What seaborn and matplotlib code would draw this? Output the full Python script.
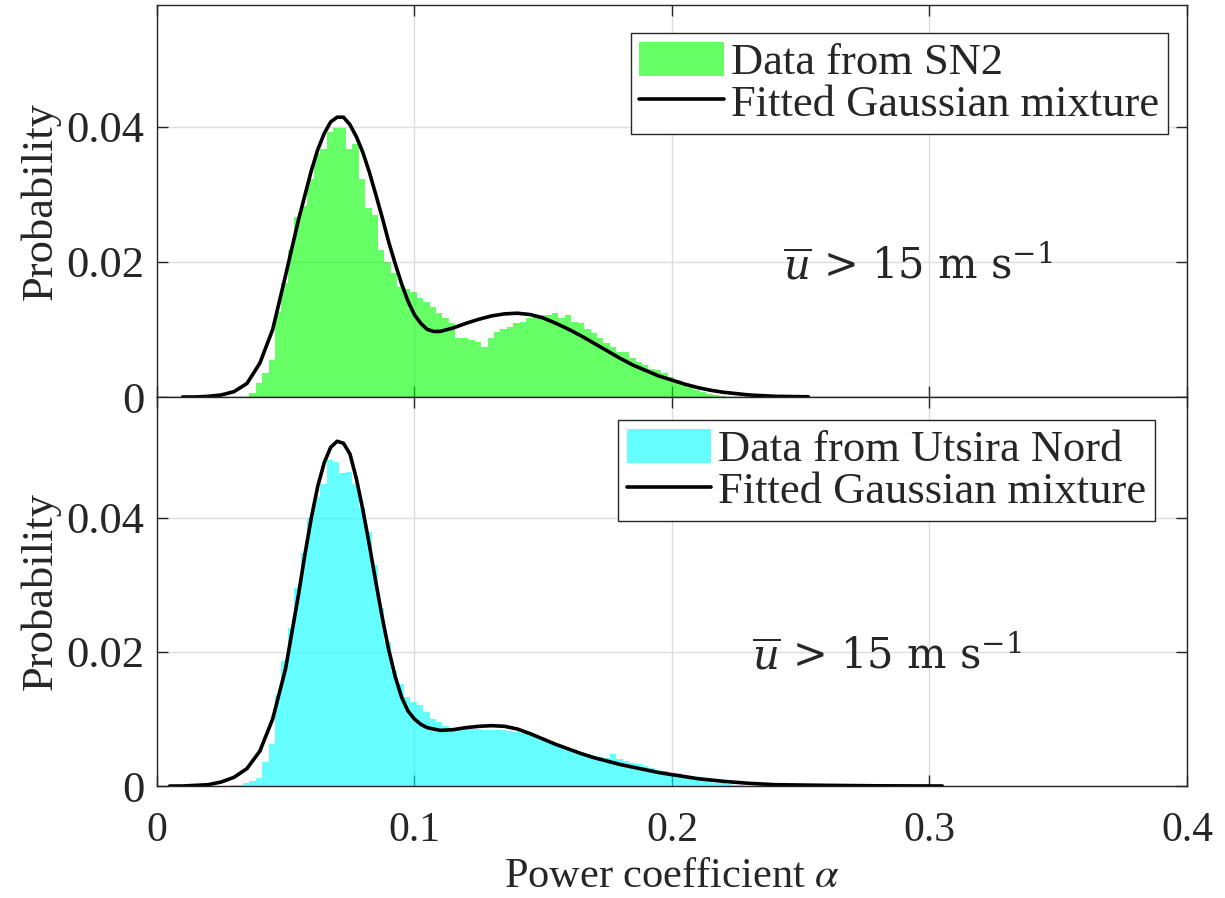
import numpy as np
import pandas as pd
import matplotlib
matplotlib.use("Agg")
import matplotlib.pyplot as plt
import seaborn as sns
from matplotlib.patches import Patch
from matplotlib.lines import Line2D

# ---------------- data ----------------
bin_width = 0.0025
sn2_first_edge = 0.0359
sn2_prob = [0.0006, 0.0021, 0.0035, 0.0055, 0.0126, 0.0169, 0.0217, 0.0266, 0.0282, 0.0322,
            0.0360, 0.0367, 0.0392, 0.0398, 0.0398, 0.0367, 0.0375, 0.0323, 0.0280, 0.0269,
            0.0217, 0.0200, 0.0183, 0.0163, 0.0160, 0.0155, 0.0146, 0.0141, 0.0133, 0.0124,
            0.0117, 0.0109, 0.0087, 0.0087, 0.0085, 0.0082, 0.0074, 0.0087, 0.0096, 0.0100,
            0.0103, 0.0109, 0.0111, 0.0117, 0.0119, 0.0121, 0.0122, 0.0124, 0.0117, 0.0122,
            0.0111, 0.0109, 0.0100, 0.0094, 0.0087, 0.0080, 0.0074, 0.0067, 0.0067, 0.0057,
            0.0052, 0.0047, 0.0042, 0.0040, 0.0035, 0.0030, 0.0025, 0.0020, 0.0015, 0.0010,
            0.0007, 0.0005, 0.0003, 0.0002]

sn2_fit_x = [0.010, 0.015, 0.020, 0.025, 0.030, 0.035, 0.040, 0.045, 0.050, 0.055,
             0.060, 0.0625, 0.065, 0.0675, 0.070, 0.0725, 0.075, 0.0775, 0.080, 0.0825,
             0.085, 0.0875, 0.090, 0.0925, 0.095, 0.0975, 0.100, 0.1025, 0.105, 0.1075,
             0.110, 0.115, 0.120, 0.125, 0.130, 0.135, 0.140, 0.145, 0.150, 0.155,
             0.160, 0.165, 0.170, 0.175, 0.180, 0.185, 0.190, 0.195, 0.200, 0.205,
             0.210, 0.215, 0.220, 0.225, 0.230, 0.240, 0.253]
sn2_fit_y = [0.0, 0.0, 0.0001, 0.0003, 0.0008, 0.0020, 0.0050, 0.0100, 0.0180, 0.0262,
             0.0335, 0.0366, 0.0390, 0.0407, 0.0414, 0.0414, 0.0403, 0.0385, 0.0362, 0.0333,
             0.0300, 0.0266, 0.0230, 0.0198, 0.0168, 0.0142, 0.0122, 0.0109, 0.0100, 0.0097,
             0.0097, 0.0102, 0.0109, 0.0115, 0.0120, 0.0123, 0.0124, 0.0122, 0.0117, 0.0109,
             0.0100, 0.0090, 0.0079, 0.0068, 0.0057, 0.0047, 0.0039, 0.0031, 0.0025, 0.0019,
             0.0014, 0.0010, 0.0007, 0.0005, 0.0003, 0.0001, 0.00003]

utsira_first_edge = 0.0284
utsira_prob = [0.0001, 0.0002, 0.0004, 0.0007, 0.0012, 0.0036, 0.0063, 0.0135, 0.0187, 0.0236,
               0.0295, 0.0347, 0.0399, 0.0431, 0.0451, 0.0486, 0.0483, 0.0466, 0.0468, 0.0450,
               0.0414, 0.0379, 0.0330, 0.0265, 0.0215, 0.0172, 0.0152, 0.0132, 0.0125, 0.0121,
               0.0110, 0.0100, 0.0096, 0.0090, 0.0087, 0.0086, 0.0085, 0.0085, 0.0085, 0.0084,
               0.0083, 0.0083, 0.0083, 0.0082, 0.0080, 0.0079, 0.0077, 0.0073, 0.0069, 0.0065,
               0.0062, 0.0059, 0.0056, 0.0053, 0.0050, 0.0047, 0.0045, 0.0043, 0.0042, 0.0048,
               0.0040, 0.0037, 0.0035, 0.0033, 0.0030, 0.0027, 0.0024, 0.0022, 0.0020, 0.0019,
               0.0017, 0.0014, 0.0011, 0.0009, 0.0007, 0.0005, 0.0004, 0.0003, 0.0002, 0.0001]

utsira_fit_x = [0.005, 0.010, 0.015, 0.020, 0.025, 0.030, 0.035, 0.040, 0.045, 0.050,
                0.055, 0.0575, 0.060, 0.0625, 0.065, 0.0675, 0.070, 0.0725, 0.075, 0.0775,
                0.080, 0.0825, 0.085, 0.0875, 0.090, 0.0925, 0.095, 0.0975, 0.100, 0.1025,
                0.105, 0.110, 0.115, 0.120, 0.125, 0.130, 0.135, 0.140, 0.145, 0.150,
                0.155, 0.160, 0.165, 0.170, 0.175, 0.180, 0.185, 0.190, 0.195, 0.200,
                0.210, 0.220, 0.230, 0.240, 0.260, 0.280, 0.305]
utsira_fit_y = [0.0, 0.0, 0.0001, 0.0002, 0.0006, 0.0013, 0.0026, 0.0052, 0.0100, 0.0175,
                0.0285, 0.0345, 0.0400, 0.0447, 0.0482, 0.0505, 0.0514, 0.0511, 0.0495, 0.0458,
                0.0412, 0.0360, 0.0305, 0.0252, 0.0204, 0.0164, 0.0133, 0.0112, 0.0100, 0.0092,
                0.0087, 0.0083, 0.0084, 0.0087, 0.0089, 0.0090, 0.0089, 0.0085, 0.0078, 0.0070,
                0.0062, 0.0055, 0.0048, 0.0042, 0.0037, 0.0032, 0.0028, 0.0024, 0.0020, 0.0017,
                0.0011, 0.0007, 0.0004, 0.0002, 0.0001, 0.00003, 0.0]

x_ticks = [0, 0.1, 0.2, 0.3, 0.4]
x_tick_labels = ["0", "0.1", "0.2", "0.3", "0.4"]
y_ticks = [0, 0.02, 0.04]
y_tick_labels = ["0", "0.02", "0.04"]

panels = [
    dict(first=sn2_first_edge, prob=sn2_prob, fx=sn2_fit_x, fy=sn2_fit_y,
         color=(0.0, 1.0, 0.0), label="Data from SN2",
         text_xy=(0.243, 0.0193), leg_anchor=(0.9816, 0.929)),
    dict(first=utsira_first_edge, prob=utsira_prob, fx=utsira_fit_x, fy=utsira_fit_y,
         color=(0.0, 1.0, 1.0), label="Data from Utsira Nord",
         text_xy=(0.231, 0.0193), leg_anchor=(0.969, 0.941)),
]

# ---------------- styling ----------------
sns.set_style("ticks")
plt.rcParams["font.family"] = ["Liberation Serif", "DejaVu Serif"]
plt.rcParams["mathtext.fontset"] = "stix"
spine_col = "#262626"

fig = plt.figure(figsize=(12.25, 8.98), dpi=100)
left, right = 0.128, 0.969
ax_top = fig.add_axes([left, 0.5579, right - left, 0.9944 - 0.5579])
ax_bot = fig.add_axes([left, 0.1247, right - left, 0.5579 - 0.1247])

for ax, p in zip([ax_top, ax_bot], panels):
    prob = np.array(p["prob"])
    n = len(prob)
    centers = p["first"] + bin_width * (np.arange(n) + 0.5)
    df = pd.DataFrame({"alpha": centers, "prob": prob})
    ax.grid(True, color="#dedede", linewidth=1.0)
    ax.set_axisbelow(True)
    sns.histplot(data=df, x="alpha", weights="prob", binwidth=bin_width,
                 binrange=(p["first"], p["first"] + n * bin_width),
                 element="step", fill=True, color=p["color"], alpha=0.6,
                 linewidth=0, ax=ax)
    fit = pd.DataFrame({"alpha": p["fx"], "pdf": p["fy"]})
    sns.lineplot(data=fit, x="alpha", y="pdf", color="black", linewidth=2.6,
                 estimator=None, sort=False, ax=ax)
    ax.set_xlim(0, 0.4)
    ax.set_ylim(0, 0.058)
    ax.set_xticks(x_ticks)
    ax.set_yticks(y_ticks)
    ax.set_yticklabels(y_tick_labels)
    ax.set_ylabel("Probability", fontsize=32, labelpad=4)
    ax.tick_params(direction="in", length=8, width=1.0, color=spine_col,
                   top=True, right=True)
    ax.tick_params(axis="y", labelsize=32, pad=9)
    ax.tick_params(axis="x", labelsize=30, pad=18)
    for s in ax.spines.values():
        s.set_color(spine_col)
        s.set_linewidth(1.0)
    handles = [Patch(facecolor=p["color"], alpha=0.6, edgecolor="none"),
               Line2D([0], [0], color="black", linewidth=2.6)]
    leg = ax.legend(handles, [p["label"], "Fitted Gaussian mixture"],
                    loc="upper right", bbox_to_anchor=p["leg_anchor"],
                    fontsize=32, frameon=True, fancybox=False,
                    framealpha=1, edgecolor=spine_col, handlelength=1.9,
                    handleheight=0.8, handletextpad=0.16, borderpad=0.2,
                    labelspacing=0.0, borderaxespad=0.0)
    leg.get_frame().set_linewidth(1.0)
    ax.text(p["text_xy"][0], p["text_xy"][1], r"$\overline{u}$ > 15 m s$^{-1}$",
            fontsize=30, family="DejaVu Serif", math_fontfamily="dejavuserif",
            va="center", ha="left")

ax_top.set_xticklabels([])
ax_top.set_xlabel("")
ax_bot.set_xticklabels(x_tick_labels)
ax_bot.set_xlabel(r"Power coefficient $\alpha$", fontsize=30.5, labelpad=6)

fig.savefig("out.png", dpi=100)
